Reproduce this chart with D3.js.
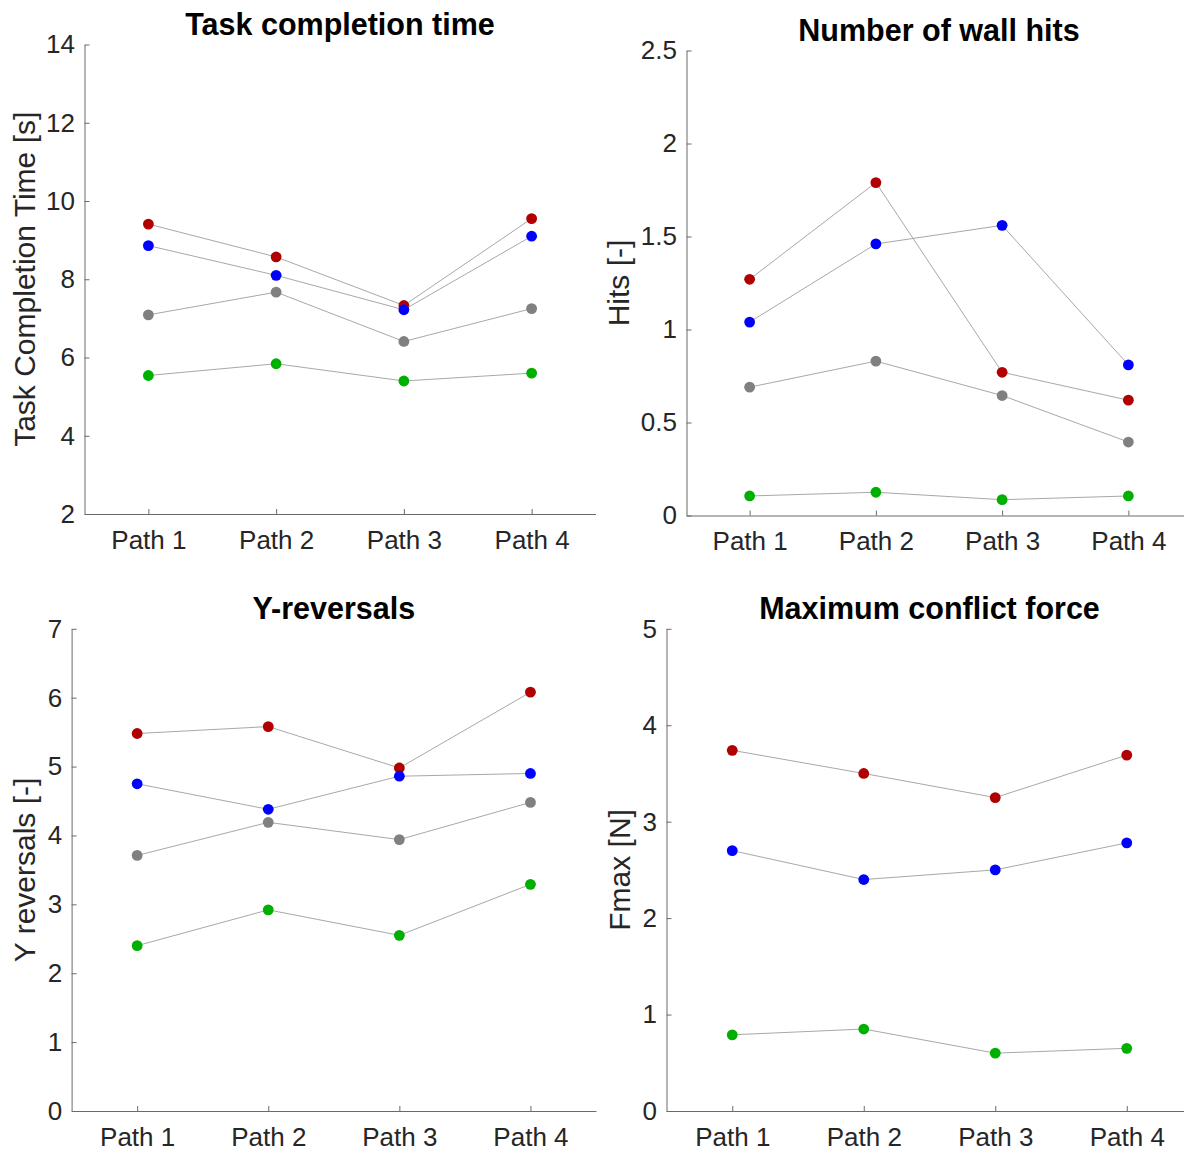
<!DOCTYPE html>
<html>
<head>
<meta charset="utf-8">
<script src="https://cdn.jsdelivr.net/npm/d3@7"></script>
<style>
  html, body { margin: 0; padding: 0; background: #ffffff; }
  svg { display: block; }
  .tick text { font-family: "Liberation Sans", Arial, Helvetica, sans-serif; fill: #262626; }
</style>
</head>
<body>
<svg id="fig" width="1184" height="1153"></svg>
<script>
// Categories shared by all four panels
const paths = ["Path 1", "Path 2", "Path 3", "Path 4"];

// Series colours (condition groups)
const colRed = "#b00000";
const colBlue = "#0000ff";
const colGray = "#808080";
const colGreen = "#00b000";

// Task completion time [s]
const timeRed   = [9.41, 8.57, 7.33, 9.55];
const timeBlue  = [8.86, 8.10, 7.22, 9.10];
const timeGray  = [7.09, 7.67, 6.41, 7.25];
const timeGreen = [5.54, 5.84, 5.40, 5.60];
const timeTicks = [2, 4, 6, 8, 10, 12, 14];

// Number of wall hits [-]
const hitsRed   = [1.27, 1.79, 0.77, 0.62];
const hitsBlue  = [1.04, 1.46, 1.56, 0.81];
const hitsGray  = [0.69, 0.83, 0.645, 0.395];
const hitsGreen = [0.105, 0.125, 0.085, 0.105];
const hitsTicks = [0, 0.5, 1, 1.5, 2, 2.5];

// Y-reversals [-]
const revRed   = [5.48, 5.58, 4.98, 6.08];
const revBlue  = [4.75, 4.38, 4.86, 4.90];
const revGray  = [3.71, 4.19, 3.94, 4.48];
const revGreen = [2.40, 2.92, 2.55, 3.29];
const revTicks = [0, 1, 2, 3, 4, 5, 6, 7];

// Maximum conflict force [N]
const forceRed   = [3.74, 3.50, 3.25, 3.69];
const forceBlue  = [2.70, 2.40, 2.50, 2.78];
const forceGreen = [0.79, 0.85, 0.60, 0.65];
const forceTicks = [0, 1, 2, 3, 4, 5];

const FONT = '"Liberation Sans", Arial, Helvetica, sans-serif';
const svg = d3.select("#fig");

function panel(cfg) {
  const { left, top, bottom, width, yDomain, yTicks, title, yLabel, labelX, series } = cfg;
  const g = svg.append("g");

  const x = d3.scaleLinear().domain([0.5, 4.5]).range([left, left + width]);
  const y = d3.scaleLinear().domain(yDomain).range([bottom, top]);

  // y axis (ticks point inward)
  const yAxis = d3.axisLeft(y)
    .tickValues(yTicks)
    .tickFormat(d3.format("~g"))
    .tickSizeInner(-5)
    .tickSizeOuter(0)
    .tickPadding(9.5);
  const ya = g.append("g").attr("transform", `translate(${left},0)`).call(yAxis);

  // x axis with category labels
  const xAxis = d3.axisBottom(x)
    .tickValues([1, 2, 3, 4])
    .tickFormat((d) => paths[d - 1])
    .tickSizeInner(-5)
    .tickSizeOuter(0);
  const xa = g.append("g").attr("transform", `translate(0,${bottom})`).call(xAxis);

  [ya, xa].forEach((a) => {
    a.select(".domain").attr("stroke", "#6a6a6a").attr("stroke-width", 1);
    a.selectAll(".tick line").attr("stroke", "#6a6a6a").attr("stroke-width", 1);
    a.selectAll(".tick text").style("font-size", "26px");
  });
  xa.selectAll(".tick text").attr("y", 34.5).attr("dy", 0);

  // title
  g.append("text")
    .attr("x", left + width / 2)
    .attr("y", top - 10)
    .attr("text-anchor", "middle")
    .style("font-family", FONT)
    .style("font-weight", "bold")
    .style("font-size", "30.5px")
    .attr("fill", "#000")
    .text(title);

  // y label
  g.append("text")
    .attr("transform", `translate(${labelX},${(top + bottom) / 2}) rotate(-90)`)
    .attr("text-anchor", "middle")
    .style("font-family", FONT)
    .style("font-size", "30px")
    .attr("fill", "#262626")
    .text(yLabel);

  const line = d3.line().x((d, i) => x(i + 1)).y((d) => y(d));

  series.forEach((s) => {
    g.append("path")
      .datum(s.values)
      .attr("d", line)
      .attr("fill", "none")
      .attr("stroke", "#a8a8a8")
      .attr("stroke-width", 1);
    g.selectAll(null)
      .data(s.values)
      .enter()
      .append("circle")
      .attr("cx", (d, i) => x(i + 1))
      .attr("cy", (d) => y(d))
      .attr("r", 5.4)
      .attr("fill", s.color);
  });
}

panel({
  left: 84.5, top: 44.5, bottom: 514, width: 511,
  yDomain: [2, 14], yTicks: timeTicks,
  title: "Task completion time", yLabel: "Task Completion Time [s]", labelX: 35,
  series: [
    { values: timeGray, color: colGray },
    { values: timeGreen, color: colGreen },
    { values: timeRed, color: colRed },
    { values: timeBlue, color: colBlue }
  ]
});

panel({
  left: 686.5, top: 50.5, bottom: 515.5, width: 505,
  yDomain: [0, 2.5], yTicks: hitsTicks,
  title: "Number of wall hits", yLabel: "Hits [-]", labelX: 628.5,
  series: [
    { values: hitsGray, color: colGray },
    { values: hitsGreen, color: colGreen },
    { values: hitsRed, color: colRed },
    { values: hitsBlue, color: colBlue }
  ]
});

panel({
  left: 71.6, top: 628.8, bottom: 1111, width: 524.4,
  yDomain: [0, 7], yTicks: revTicks,
  title: "Y-reversals", yLabel: "Y reversals [-]", labelX: 35,
  series: [
    { values: revGray, color: colGray },
    { values: revGreen, color: colGreen },
    { values: revRed, color: colRed },
    { values: revBlue, color: colBlue }
  ]
});

panel({
  left: 666.5, top: 628.8, bottom: 1111, width: 526,
  yDomain: [0, 5], yTicks: forceTicks,
  title: "Maximum conflict force", yLabel: "Fmax [N]", labelX: 630,
  series: [
    { values: forceGreen, color: colGreen },
    { values: forceRed, color: colRed },
    { values: forceBlue, color: colBlue }
  ]
});
</script>
</body>
</html>
